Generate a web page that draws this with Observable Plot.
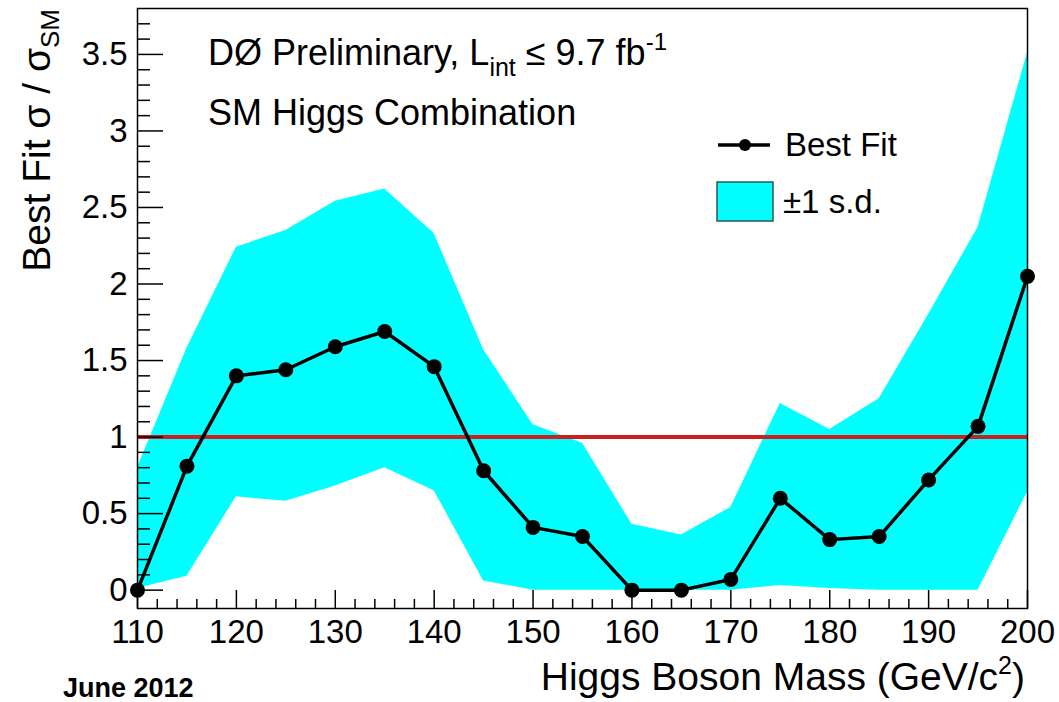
<!DOCTYPE html>
<html>
<head>
<meta charset="utf-8">
<script src="https://cdn.jsdelivr.net/npm/d3@7"></script>
<script src="https://cdn.jsdelivr.net/npm/@observablehq/plot@0.6"></script>
<style>
  html, body { margin: 0; padding: 0; background: #fff; }
  #chart svg { display: block; }
</style>
</head>
<body>
<div id="chart"></div>
<script>
// ---- data ----
const mass    = [110, 115, 120, 125, 130, 135, 140, 145, 150, 155, 160, 165, 170, 175, 180, 185, 190, 195, 200];
const bestFit = [0.00, 0.81, 1.40, 1.44, 1.59, 1.69, 1.46, 0.78, 0.41, 0.35, 0.00, 0.00, 0.07, 0.60, 0.33, 0.35, 0.72, 1.07, 2.05];
const bandUp  = [0.80, 1.58, 2.24, 2.35, 2.54, 2.62, 2.33, 1.57, 1.08, 0.96, 0.43, 0.36, 0.54, 1.22, 1.05, 1.25, 1.80, 2.37, 3.51];
const bandLo  = [0.01, 0.09, 0.61, 0.58, 0.68, 0.80, 0.65, 0.06, 0.00, 0.00, 0.00, 0.00, 0.00, 0.03, 0.01, 0.00, 0.00, 0.00, 0.64];
const smLine  = [1];
const xTickLabels = [110, 120, 130, 140, 150, 160, 170, 180, 190, 200];
const yTickLabels = [0, 0.5, 1, 1.5, 2, 2.5, 3, 3.5];

const xDomain = [110, 200];
const yDomain = [-0.12, 3.8];

const rows = mass.map((m, i) => ({mass: m, fit: bestFit[i], up: bandUp[i], lo: bandLo[i]}));

// tick mark positions (inward ROOT-style ticks)
const xMinor = d3.range(110, 200.001, 2).filter(v => v % 10 !== 0);
const yMajor = yTickLabels;
const yMinor = d3.range(0, 3.75, 0.1).map(v => +v.toFixed(1)).filter(v => Math.abs((v * 2) - Math.round(v * 2)) > 1e-6);

const W = 1059, H = 702;
const mL = 137, mR = 32, mT = 8, mB = 94;
const pxX = (xDomain[1] - xDomain[0]) / (W - mL - mR);
const pxY = (yDomain[1] - yDomain[0]) / (H - mT - mB);

const font = "'Liberation Sans', Arial, Helvetica, sans-serif";

const chart = Plot.plot({
  width: W,
  height: H,
  marginLeft: mL,
  marginRight: mR,
  marginTop: mT,
  marginBottom: mB,
  style: {fontFamily: font, background: "#fff", color: "#000"},
  x: {domain: xDomain},
  y: {domain: yDomain},
  marks: [
    Plot.areaY(rows, {x: "mass", y1: "lo", y2: "up", fill: "#00ffff", fillOpacity: 1}),
    Plot.ruleY(smLine, {stroke: "#cc1f1f", strokeWidth: 4}),
    // ticks bottom
    Plot.ruleX(xTickLabels, {x: d => d, y1: yDomain[0], y2: yDomain[0] + 18 * pxY, stroke: "#000", strokeWidth: 1.5}),
    Plot.ruleX(xMinor, {x: d => d, y1: yDomain[0], y2: yDomain[0] + 9 * pxY, stroke: "#000", strokeWidth: 1.5}),
    // ticks left
    Plot.ruleY(yMajor, {y: d => d, x1: xDomain[0], x2: xDomain[0] + 26 * pxX, stroke: "#000", strokeWidth: 1.5}),
    Plot.ruleY(yMinor, {y: d => d, x1: xDomain[0], x2: xDomain[0] + 13 * pxX, stroke: "#000", strokeWidth: 1.5}),
    Plot.frame({stroke: "#000", strokeWidth: 1.5}),
    Plot.line(rows, {x: "mass", y: "fit", stroke: "#000", strokeWidth: 3.5}),
    Plot.dot(rows, {x: "mass", y: "fit", r: 7.5, fill: "#000", stroke: "none"}),
    Plot.axisX({ticks: xTickLabels, tickSize: 0, tickPadding: 11, fontSize: 33, label: null, tickFormat: d => String(d)}),
    Plot.axisY({ticks: yTickLabels, tickSize: 0, tickPadding: 10, fontSize: 33, label: null, tickFormat: d => String(d)})
  ]
});

document.getElementById("chart").appendChild(chart);

const svg = d3.select(chart);
const g = svg.append("g").attr("font-family", font).attr("fill", "#000").attr("text-anchor", "start");

// Y axis title (rotated, anchored at top)
const yt = g.append("text")
  .attr("transform", "translate(50,9) rotate(-90)")
  .attr("text-anchor", "end")
  .attr("font-size", 39);
yt.append("tspan").text("Best Fit σ / σ");
yt.append("tspan").attr("font-size", 26).attr("dy", 9).text("SM");

// X axis title (right-aligned)
const xt = g.append("text")
  .attr("x", 1025).attr("y", 690)
  .attr("text-anchor", "end")
  .attr("font-size", 39);
xt.append("tspan").text("Higgs Boson Mass (GeV/c");
xt.append("tspan").attr("font-size", 25).attr("dy", -16).text("2");
xt.append("tspan").attr("dy", 16).text(")");

// June 2012
g.append("text").attr("x", 63).attr("y", 697)
  .attr("font-size", 27).attr("font-weight", "bold").text("June 2012");

// In-plot annotations
const t1 = g.append("text").attr("x", 208).attr("y", 65).attr("font-size", 36);
t1.append("tspan").text("DØ Preliminary, L");
t1.append("tspan").attr("font-size", 25).attr("dy", 11).text("int");
t1.append("tspan").attr("dy", -11).text(" ≤ 9.7 fb");
t1.append("tspan").attr("font-size", 24).attr("dy", -15).text("-1");

g.append("text").attr("x", 208).attr("y", 125).attr("font-size", 36).text("SM Higgs Combination");

// Legend
g.append("line").attr("x1", 718).attr("x2", 770).attr("y1", 145).attr("y2", 145)
  .attr("stroke", "#000").attr("stroke-width", 3.5);
g.append("circle").attr("cx", 745).attr("cy", 145).attr("r", 6).attr("fill", "#000");
g.append("text").attr("x", 785).attr("y", 156).attr("font-size", 33).text("Best Fit");
g.append("rect").attr("x", 717).attr("y", 182).attr("width", 56).attr("height", 39)
  .attr("fill", "#00ffff").attr("stroke", "#2a5a5a").attr("stroke-width", 1.5);
g.append("text").attr("x", 783).attr("y", 213).attr("font-size", 33).text("±1 s.d.");
</script>
</body>
</html>
